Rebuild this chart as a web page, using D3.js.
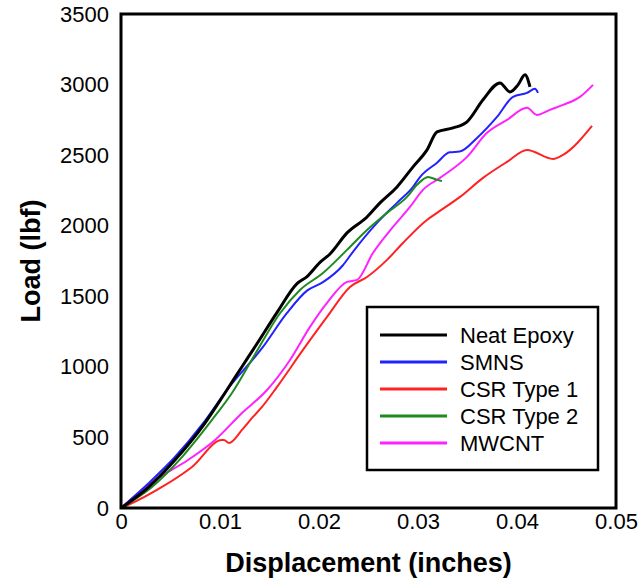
<!DOCTYPE html>
<html>
<head>
<meta charset="utf-8">
<script src="https://cdn.jsdelivr.net/npm/d3@7"></script>
<style>
  body { margin: 0; background: #fff; }
  text { font-family: Arial, "Liberation Sans", sans-serif; }
</style>
</head>
<body>
<div id="chart"></div>
<script>
// displacement (inches), load (lbf)
const neatEpoxy = [
  [0, 0], [0.00273, 145], [0.00545, 340], [0.00848, 602], [0.0105, 815], [0.0123, 1010],
  [0.0137, 1160], [0.0158, 1390], [0.01778, 1590], [0.01879, 1640], [0.0201, 1740],
  [0.02111, 1800], [0.02283, 1949], [0.02485, 2062], [0.02616, 2162], [0.02788, 2275],
  [0.0295, 2417], [0.03091, 2537], [0.03192, 2665], [0.03354, 2693], [0.03495, 2736],
  [0.03657, 2892], [0.03828, 3012], [0.03929, 2948], [0.0401, 2998], [0.04081, 3069],
  [0.04131, 2984]
];
const smns = [
  [0, 0], [0.00273, 172], [0.00545, 361], [0.00818, 590], [0.0107, 836], [0.01434, 1141],
  [0.01677, 1382], [0.01879, 1540], [0.0204, 1600], [0.02242, 1720], [0.02343, 1815],
  [0.02586, 2020], [0.02788, 2162], [0.0295, 2275], [0.0302, 2345], [0.0319, 2445],
  [0.0332, 2520], [0.0342, 2525], [0.03596, 2622], [0.03798, 2771], [0.0396, 2913],
  [0.04101, 2941], [0.04182, 2970], [0.04212, 2941]
];
const csrType1 = [
  [0, 0], [0.00071, 21], [0.00414, 149], [0.00717, 291], [0.0102, 482], [0.0104, 482],
  [0.01091, 461], [0.01222, 553], [0.01333, 645], [0.01424, 716], [0.01576, 858],
  [0.01838, 1120], [0.02081, 1354], [0.02313, 1566], [0.02485, 1637], [0.02687, 1758],
  [0.02848, 1878], [0.0309, 2041], [0.03192, 2091], [0.03424, 2204], [0.03657, 2339],
  [0.03899, 2452], [0.04101, 2537], [0.04364, 2473], [0.04465, 2502], [0.04758, 2707]
];
const csrType2 = [
  [0, 0], [0.00313, 149], [0.00616, 361], [0.00919, 624], [0.01121, 815], [0.01354, 1090],
  [0.01606, 1380], [0.01808, 1545], [0.0204, 1665], [0.02283, 1829], [0.02485, 1970],
  [0.02687, 2091], [0.02889, 2204], [0.0299, 2290], [0.03101, 2346], [0.03192, 2325],
  [0.03242, 2317]
];
const mwcnt = [
  [0, 0], [0.00343, 198], [0.00677, 340], [0.0095, 482], [0.01222, 673],
  [0.01475, 836], [0.01707, 1049], [0.01909, 1283], [0.02081, 1453], [0.02283, 1602],
  [0.02384, 1616], [0.02545, 1807], [0.02747, 1991], [0.02919, 2133], [0.0305, 2254],
  [0.03222, 2339], [0.03495, 2488], [0.03697, 2658], [0.03899, 2750], [0.04101, 2835],
  [0.04202, 2785], [0.04333, 2821], [0.04465, 2856], [0.04636, 2913], [0.04768, 2998]
];

const seriesNames = ['Neat Epoxy', 'SMNS', 'CSR Type 1', 'CSR Type 2', 'MWCNT'];
const seriesData = [neatEpoxy, smns, csrType1, csrType2, mwcnt];
const seriesColors = ['#000000', '#2222ff', '#ff2222', '#1f8a1f', '#ff22ff'];
const xTicks = [0, 0.01, 0.02, 0.03, 0.04, 0.05];
const yTicks = [0, 500, 1000, 1500, 2000, 2500, 3000, 3500];

const width = 638;
const height = 583;
const margin = { top: 14, right: 22, bottom: 75, left: 121 };

const svg = d3.select('#chart')
  .append('svg')
  .attr('width', width)
  .attr('height', height);

const xScale = d3.scaleLinear().domain([0, 0.05]).range([margin.left, width - margin.right]);
const yScale = d3.scaleLinear().domain([0, 3500]).range([height - margin.bottom, margin.top]);

svg.append('clipPath').attr('id', 'clip')
  .append('rect')
  .attr('x', margin.left).attr('y', margin.top)
  .attr('width', xScale(0.05) - margin.left)
  .attr('height', yScale(0) - margin.top);

// axes (labels only, the frame is drawn separately)
const xAxis = svg.append('g')
  .attr('transform', `translate(0, ${yScale(0)})`)
  .call(d3.axisBottom(xScale).tickValues(xTicks).tickSize(0).tickPadding(5)
    .tickFormat((d) => (d === 0 ? '0' : d3.format('.2f')(d))));
xAxis.select('.domain').remove();
xAxis.selectAll('text').attr('font-size', 22).attr('fill', '#000');

const yAxis = svg.append('g')
  .attr('transform', `translate(${margin.left}, 0)`)
  .call(d3.axisLeft(yScale).tickValues(yTicks).tickSize(0).tickPadding(12).tickFormat(d3.format('d')));
yAxis.select('.domain').remove();
yAxis.selectAll('text').attr('font-size', 22).attr('fill', '#000');

// curves
const line = d3.line()
  .x((d) => xScale(d[0]))
  .y((d) => yScale(d[1]))
  .curve(d3.curveMonotoneX);

const drawOrder = [4, 2, 1, 3, 0];
svg.append('g')
  .attr('clip-path', 'url(#clip)')
  .selectAll('path')
  .data(drawOrder)
  .join('path')
  .attr('d', (i) => line(seriesData[i]))
  .attr('fill', 'none')
  .attr('stroke', (i) => seriesColors[i])
  .attr('stroke-width', (i) => (i === 0 ? 3 : 2))
  .attr('stroke-linejoin', 'round');

// frame
svg.append('rect')
  .attr('x', margin.left)
  .attr('y', margin.top)
  .attr('width', xScale(0.05) - margin.left)
  .attr('height', yScale(0) - margin.top)
  .attr('fill', 'none')
  .attr('stroke', '#000')
  .attr('stroke-width', 3);

// axis titles
svg.append('text')
  .attr('x', (margin.left + xScale(0.05)) / 2)
  .attr('y', 572)
  .attr('text-anchor', 'middle')
  .attr('font-size', 27)
  .attr('font-weight', 'bold')
  .text('Displacement (inches)');

svg.append('text')
  .attr('transform', `translate(40, ${(yScale(0) + yScale(3500)) / 2}) rotate(-90)`)
  .attr('text-anchor', 'middle')
  .attr('font-size', 27)
  .attr('font-weight', 'bold')
  .text('Load (lbf)');

// legend
const legend = svg.append('g').attr('transform', 'translate(367, 307)');
legend.append('rect')
  .attr('width', 231)
  .attr('height', 163)
  .attr('fill', '#fff')
  .attr('stroke', '#000')
  .attr('stroke-width', 2.5);

const items = legend.selectAll('g.item')
  .data(seriesNames)
  .join('g')
  .attr('class', 'item')
  .attr('transform', (d, i) => `translate(0, ${28 + i * 27})`);

items.append('line')
  .attr('x1', 13).attr('x2', 80)
  .attr('stroke', (d, i) => seriesColors[i])
  .attr('stroke-width', 3);

items.append('text')
  .attr('x', 93)
  .attr('y', 8)
  .attr('font-size', 22)
  .text((d) => d);
</script>
</body>
</html>
